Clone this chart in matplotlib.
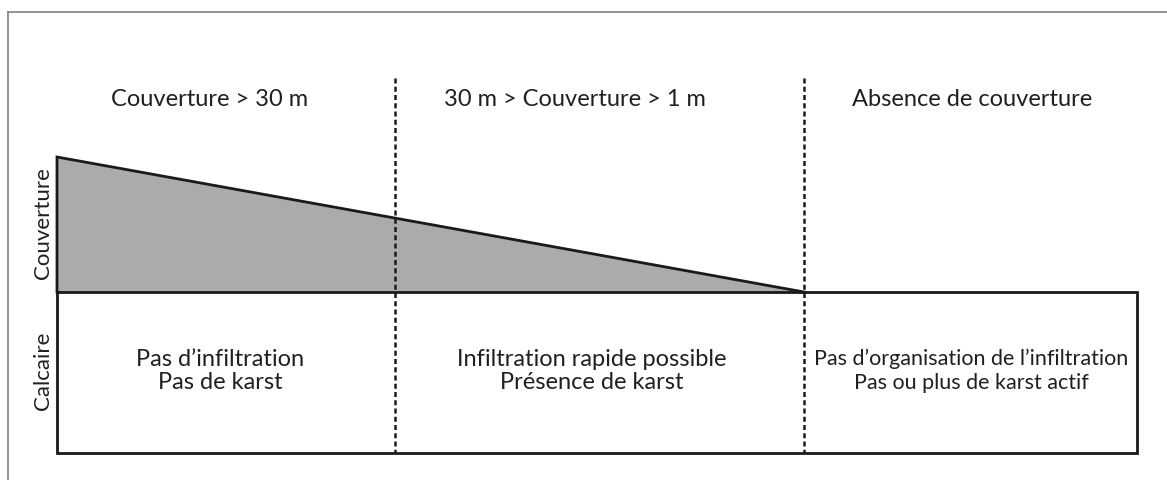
import matplotlib
matplotlib.use("Agg")
import matplotlib.pyplot as plt

# ---- data (conceptual profile, units ~ pixels of the reference) ----
zone_edges = [0, 338, 747, 1080]          # left edge, two boundaries, right edge
cover_x = [0, 747]                         # cover wedge: from left edge to second boundary
cover_thickness = [135, 0]                 # cover thickness at those points
limestone_thickness = 161
zone_titles = ["Couverture > 30 m", "30 m > Couverture > 1 m", "Absence de couverture"]
zone_texts = ["Pas d\u2019infiltration\nPas de karst",
              "Infiltration rapide possible\nPrésence de karst",
              "Pas d\u2019organisation de l\u2019infiltration\nPas ou plus de karst actif"]
layer_labels = ["Couverture", "Calcaire"]
title_x = [153, 518, 915]                  # label anchor positions along the profile
text_x = [163, 535, 914]

plt.rcParams['font.family'] = ['Lato', 'DejaVu Sans']
TXT = '#231f20'

fig = plt.figure(figsize=(11.67, 4.8), dpi=100)
ax = fig.add_axes([0, 0, 1, 1])
ax.set_xlim(-57, 1110)
ax.set_ylim(-188, 292)
ax.axis('off')

# outer gray frame (top and left)
ax.plot([-49, 1120], [280.5, 280.5], color='#808080', lw=1.2, clip_on=False)
ax.plot([-49, -49], [280.5, -200], color='#808080', lw=1.2, clip_on=False)

# cover wedge
px = [cover_x[0], cover_x[0], cover_x[1]]
py = [0, cover_thickness[0], cover_thickness[1]]
ax.fill(px, py, facecolor='#ababab', edgecolor='none', zorder=1)
ax.plot([cover_x[0], cover_x[0], cover_x[1]], [0, cover_thickness[0], cover_thickness[1]],
        color='#1a1a1a', lw=2.0, solid_joinstyle='miter', zorder=3)

# limestone rectangle
x0, x3 = zone_edges[0], zone_edges[-1]
ax.plot([x0, x3, x3, x0, x0], [0, 0, -limestone_thickness, -limestone_thickness, 0],
        color='#1a1a1a', lw=2.0, solid_joinstyle='miter', zorder=3)

# dashed zone boundaries
for xb in zone_edges[1:3]:
    ax.plot([xb, xb], [214, -limestone_thickness], color='#1a1a1a', lw=1.8,
            linestyle=(0, (2.0, 1.3)), zorder=4)

# zone titles and texts
body_sizes = [17, 17, 15.5]
for i in range(3):
    ax.text(title_x[i], 193, zone_titles[i], ha='center', va='center', fontsize=17, color=TXT)
    ax.text(text_x[i], -79, zone_texts[i], ha='center', va='center',
            fontsize=body_sizes[i], color=TXT, linespacing=1.15 if i < 2 else 1.25)

# layer labels
ax.text(-14, cover_thickness[0] / 2 + 1, layer_labels[0], rotation=90, ha='center', va='center',
        fontsize=16, color=TXT)
ax.text(-14, -limestone_thickness / 2 + 2, layer_labels[1], rotation=90, ha='center', va='center',
        fontsize=16, color=TXT)

fig.savefig('out.png', dpi=100, facecolor='white')
